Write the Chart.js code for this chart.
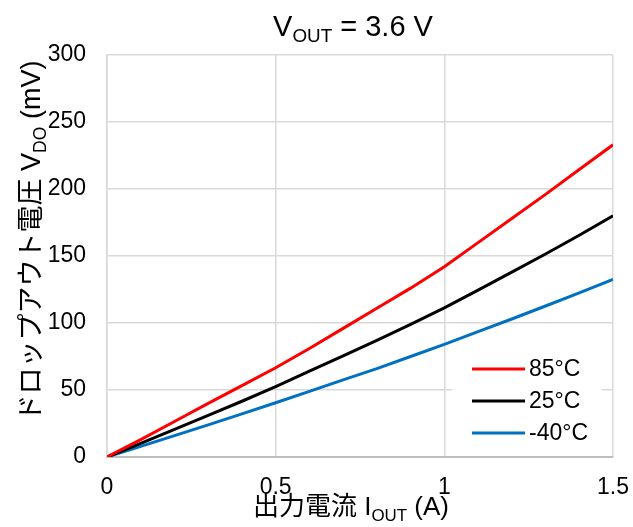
<!DOCTYPE html>
<html>
<head>
<meta charset="utf-8">
<script src="https://cdn.jsdelivr.net/npm/chart.js@4/dist/chart.umd.min.js"></script>
<style>
html,body{margin:0;padding:0;background:#fff;}
#wrap{width:633px;height:527px;}
</style>
</head>
<body>
<div id="wrap"><canvas id="c" width="633" height="527"></canvas></div>
<script>
// 出力電流 (A)
const current=[0,0.1,0.2,0.3,0.4,0.5,0.6,0.7,0.8,0.9,1.0,1.1,1.2,1.3,1.4,1.5];
// ドロップアウト電圧 (mV)
const vdo85=[0,13,26.5,40,53.3,66.6,81,96,111,126,142,160,178,196,214.5,233];
const vdo25=[0,10.2,20.6,31,41.6,52.6,64,75.5,87,99,111.3,124.5,138,151.5,165.5,180];
const vdoM40=[0,7.9,15.9,24,32.2,40.5,49,57.5,66,75,84,93.5,103,112.7,122.5,132.5];
const seriesNames=['85°C','25°C','-40°C'];
const seriesColors=['#ff0000','#000000','#0070c0'];
const xTicks=[0,0.5,1,1.5];
const yTicks=[0,50,100,150,200,250,300];

const FONT='"Liberation Sans", Arial, "Noto Sans CJK JP", sans-serif';

function pts(ys){ return current.map((x,i)=>({x:x,y:ys[i]})); }

// draw text with a subscript part: parts = [[text,isSub],...]
function drawSubText(ctx,parts,cx,baseY,size){
  const sub=size*0.65;
  let w=0;
  parts.forEach(p=>{ ctx.font=(p[1]?sub:size)+'px '+FONT; w+=ctx.measureText(p[0]).width; });
  let x=cx-w/2;
  ctx.textAlign='left'; ctx.textBaseline='alphabetic';
  parts.forEach(p=>{
    ctx.font=(p[1]?sub:size)+'px '+FONT;
    ctx.fillText(p[0],x,p[1]?baseY+size*0.22:baseY);
    x+=ctx.measureText(p[0]).width;
  });
}

const titles={
  id:'titles',
  afterDraw(chart){
    const ctx=chart.ctx;
    ctx.save();
    ctx.fillStyle='#000';
    drawSubText(ctx,[['V',false],['OUT',true],[' = 3.6 V',false]],353,36,29);
    drawSubText(ctx,[['出力電流 I',false],['OUT',true],[' (A)',false]],351,515,26);
    ctx.translate(40,241); ctx.rotate(-Math.PI/2);
    drawSubText(ctx,[['ドロップアウト電圧 V',false],['DO',true],[' (mV)',false]],0,0,27);
    ctx.restore();
  }
};

const legendBox={
  id:'legendBox',
  afterDatasetsDraw(chart){
    const ctx=chart.ctx;
    ctx.save();
    ctx.fillStyle='#fff';
    ctx.fillRect(452,352,150,98);
    const ys=[369,401,433];
    chart.data.datasets.forEach((ds,i)=>{
      ctx.strokeStyle=ds.borderColor; ctx.lineWidth=3;
      ctx.beginPath(); ctx.moveTo(472,ys[i]); ctx.lineTo(525,ys[i]); ctx.stroke();
      ctx.fillStyle='#000'; ctx.font='23px '+FONT;
      ctx.textAlign='left'; ctx.textBaseline='middle';
      ctx.fillText(ds.label,529,ys[i]+1);
    });
    ctx.restore();
  }
};

new Chart(document.getElementById('c'),{
  type:'line',
  data:{datasets:[
    {label:seriesNames[0],data:pts(vdo85),borderColor:seriesColors[0]},
    {label:seriesNames[1],data:pts(vdo25),borderColor:seriesColors[1]},
    {label:seriesNames[2],data:pts(vdoM40),borderColor:seriesColors[2]}
  ]},
  options:{
    responsive:false,animation:false,
    layout:{padding:{top:55,right:20,left:0,bottom:0}},
    elements:{point:{radius:0},line:{borderWidth:3,tension:0}},
    plugins:{legend:{display:false},title:{display:false},tooltip:{enabled:false}},
    scales:{
      x:{type:'linear',min:0,max:1.5,
        afterBuildTicks(s){ s.ticks=xTicks.map(v=>({value:v})); },
        afterFit(s){ s.height=70; s.paddingRight=0; s.paddingLeft=0; },
        grid:{color:'#d9d9d9',lineWidth:1.5,drawTicks:false},
        border:{color:'#bfbfbf',width:2},
        ticks:{padding:17,color:'#000',font:{family:FONT,size:23},maxRotation:0,
          callback:v=>String(v)}},
      y:{min:0,max:300,
        afterBuildTicks(s){ s.ticks=yTicks.map(v=>({value:v})); },
        afterFit(s){ s.width=107; s.paddingTop=0; s.paddingBottom=0; },
        grid:{color:'#d9d9d9',lineWidth:1.5,drawTicks:false},
        border:{color:'#d9d9d9',width:1.5},
        ticks:{padding:21,color:'#000',font:{family:FONT,size:23}}}
    }
  },
  plugins:[titles,legendBox]
});
</script>
</body>
</html>
